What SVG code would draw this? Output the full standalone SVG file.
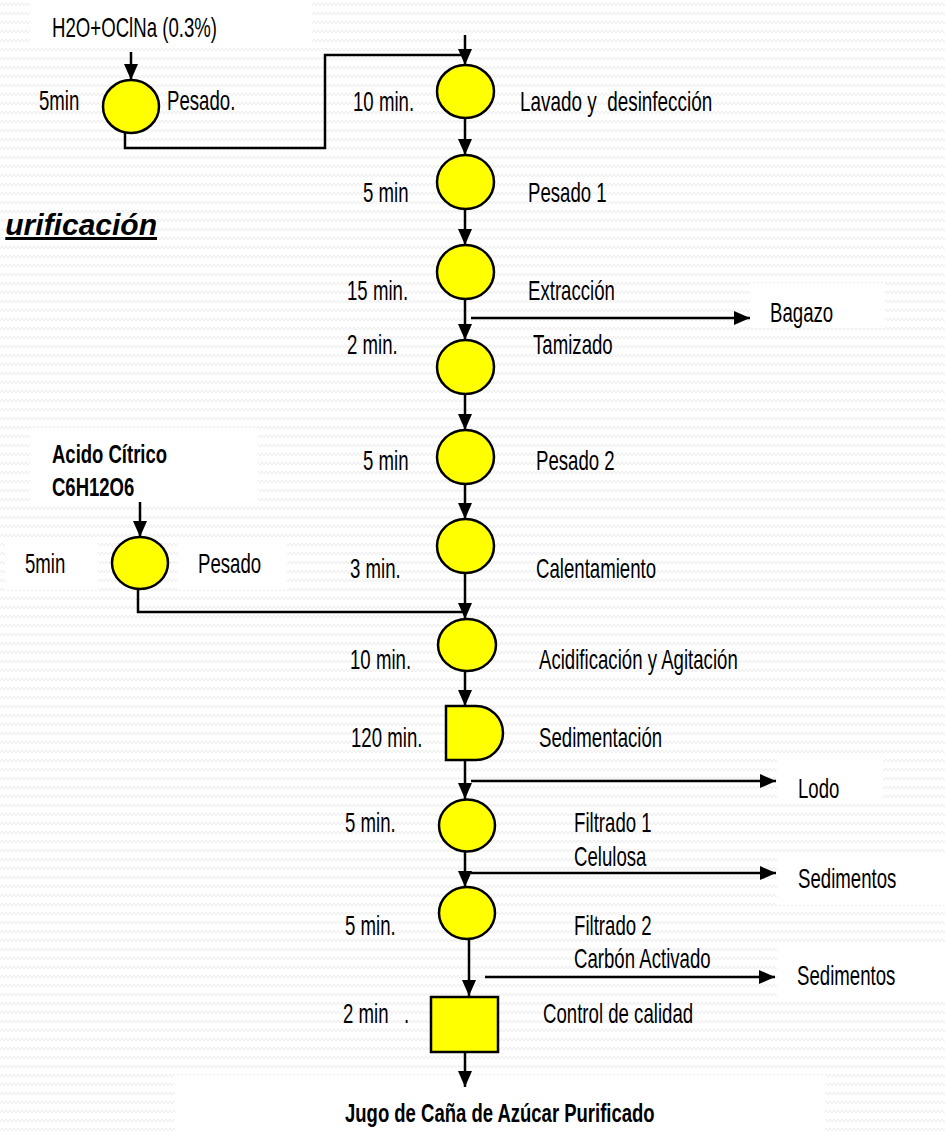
<svg xmlns="http://www.w3.org/2000/svg" width="945" height="1131" viewBox="0 0 945 1131">
<defs>
<pattern id="bg" width="8" height="9" patternUnits="userSpaceOnUse">
<polyline points="0,6 2,3 4,6 6,3 8,6" fill="none" stroke="#ececec" stroke-width="1"/>
</pattern>
<marker id="ah" markerUnits="userSpaceOnUse" markerWidth="16" markerHeight="14" refX="16" refY="7" orient="auto">
<path d="M0,0 L16,7 L0,14 z" fill="#000"/>
</marker>
<style>
.t{font-family:"Liberation Sans",Arial,sans-serif;font-size:27px;fill:#000;white-space:pre}
.b{font-family:"Liberation Sans",Arial,sans-serif;font-size:25px;font-weight:bold;fill:#000;white-space:pre}
.c{fill:#ffff00;stroke:#000;stroke-width:2.5}
.w{fill:#fff}
.ln{fill:none;stroke:#000;stroke-width:2.5}
.ar{fill:none;stroke:#000;stroke-width:2.5;marker-end:url(#ah)}
</style>
</defs>
<rect width="945" height="1131" fill="#fff"/>
<rect width="945" height="1131" fill="url(#bg)"/>
<g id="boxes">
<rect class="w" x="30" y="0" width="282" height="47"/>
<rect class="w" x="750" y="283" width="135" height="45"/>
<rect class="w" x="777" y="757" width="106" height="41"/>
<rect class="w" x="777" y="855" width="168" height="50"/>
<rect class="w" x="777" y="945" width="168" height="52"/>
<rect class="w" x="30" y="428" width="228" height="74"/>
<rect class="w" x="5" y="537" width="93" height="53"/>
<rect class="w" x="178" y="537" width="109" height="53"/>
<rect class="w" x="175" y="1075" width="650" height="56"/>
</g>
<g id="title">
<text x="157" y="235" text-anchor="end" style="font-family:'Liberation Sans',Arial,sans-serif;font-size:30px;font-weight:bold;font-style:italic;text-decoration:underline">urificación</text>
</g>
<g id="connectors">
<path class="ar" d="M131,52 V80"/>
<path class="ln" d="M125,131 V148 H325 V55 H465"/>
<path class="ar" d="M465,35 V65"/>
<path class="ar" d="M465,118 V155"/>
<path class="ar" d="M465,209 V245"/>
<path class="ar" d="M465,299 V340"/>
<path class="ar" d="M471,318 H750"/>
<path class="ar" d="M465,394 V430"/>
<path class="ar" d="M465,484 V519"/>
<path class="ar" d="M465,572 V619"/>
<path class="ar" d="M140,502 V537"/>
<path class="ln" d="M138,589 V612 H465"/>
<path class="ar" d="M465,671 V706"/>
<path class="ar" d="M465,760 V799"/>
<path class="ar" d="M471,781 H776"/>
<path class="ar" d="M465,852 V887"/>
<path class="ar" d="M471,873 H776"/>
<path class="ar" d="M469,939 V996"/>
<path class="ar" d="M485,977 H775"/>
<path class="ar" d="M465,1052 V1087"/>
</g>
<g id="n-h2o"><text class="t" transform="translate(52,37) scale(0.69,1)">H2O+OClNa (0.3%)</text></g>
<g id="n-pesado-a">
<ellipse class="c" cx="131" cy="106.5" rx="28" ry="26.5"/>
<text class="t" transform="translate(39,110) scale(0.69,1)">5min</text>
<text class="t" transform="translate(167,110) scale(0.69,1)">Pesado.</text>
</g>
<g id="n-lavado">
<ellipse class="c" cx="465.5" cy="91.5" rx="28.5" ry="26.5"/>
<text class="t" transform="translate(353,111) scale(0.69,1)">10 min.</text>
<text class="t" transform="translate(520,111) scale(0.7,1)">Lavado y  desinfección</text>
</g>
<g id="n-pesado1">
<ellipse class="c" cx="465.5" cy="182" rx="28.5" ry="27"/>
<text class="t" transform="translate(363,202) scale(0.69,1)">5 min</text>
<text class="t" transform="translate(528,202) scale(0.69,1)">Pesado 1</text>
</g>
<g id="n-extraccion">
<ellipse class="c" cx="465.5" cy="272" rx="28.5" ry="27"/>
<text class="t" transform="translate(347,300) scale(0.69,1)">15 min.</text>
<text class="t" transform="translate(528,300) scale(0.69,1)">Extracción</text>
</g>
<g id="n-bagazo"><text class="t" transform="translate(770,322) scale(0.69,1)">Bagazo</text></g>
<g id="n-tamizado">
<ellipse class="c" cx="465.5" cy="367" rx="28.5" ry="27"/>
<text class="t" transform="translate(347,354) scale(0.69,1)">2 min.</text>
<text class="t" transform="translate(533,354) scale(0.69,1)">Tamizado</text>
</g>
<g id="n-pesado2">
<ellipse class="c" cx="465.5" cy="457" rx="28.5" ry="27"/>
<text class="t" transform="translate(363,470) scale(0.69,1)">5 min</text>
<text class="t" transform="translate(536,470) scale(0.69,1)">Pesado 2</text>
</g>
<g id="n-calentamiento">
<ellipse class="c" cx="465.5" cy="546" rx="28.5" ry="27"/>
<text class="t" transform="translate(350,578) scale(0.69,1)">3 min.</text>
<text class="t" transform="translate(536,578) scale(0.69,1)">Calentamiento</text>
</g>
<g id="n-acido">
<text class="b" transform="translate(52,463) scale(0.74,1)">Acido Cítrico</text>
<text class="b" transform="translate(52,496) scale(0.74,1)">C6H12O6</text>
</g>
<g id="n-pesado-b">
<ellipse class="c" cx="140" cy="563" rx="28" ry="26"/>
<text class="t" transform="translate(25,573) scale(0.69,1)">5min</text>
<text class="t" transform="translate(198,573) scale(0.69,1)">Pesado</text>
</g>
<g id="n-acidificacion">
<ellipse class="c" cx="467" cy="645" rx="29" ry="26"/>
<text class="t" transform="translate(350,669) scale(0.69,1)">10 min.</text>
<text class="t" transform="translate(539,669) scale(0.69,1)">Acidificación y Agitación</text>
</g>
<g id="n-sedimentacion">
<path class="c" d="M446,706 H476 A27,27 0 0 1 476,760 H446 Z"/>
<text class="t" transform="translate(351,747) scale(0.69,1)">120 min.</text>
<text class="t" transform="translate(539,747) scale(0.69,1)">Sedimentación</text>
</g>
<g id="n-lodo"><text class="t" transform="translate(798,798) scale(0.69,1)">Lodo</text></g>
<g id="n-filtrado1">
<ellipse class="c" cx="467" cy="825.5" rx="28" ry="26"/>
<text class="t" transform="translate(345,832) scale(0.69,1)">5 min.</text>
<text class="t" transform="translate(574,832) scale(0.69,1)">Filtrado 1</text>
<text class="t" transform="translate(574,866) scale(0.69,1)">Celulosa</text>
</g>
<g id="n-sed1"><text class="t" transform="translate(798,888) scale(0.69,1)">Sedimentos</text></g>
<g id="n-filtrado2">
<ellipse class="c" cx="467" cy="913" rx="28" ry="26"/>
<text class="t" transform="translate(345,935) scale(0.69,1)">5 min.</text>
<text class="t" transform="translate(574,935) scale(0.69,1)">Filtrado 2</text>
<text class="t" transform="translate(574,968) scale(0.69,1)">Carbón Activado</text>
</g>
<g id="n-sed2"><text class="t" transform="translate(797,985) scale(0.69,1)">Sedimentos</text></g>
<g id="n-control">
<rect class="c" x="431" y="997" width="67" height="55"/>
<text class="t" transform="translate(343,1023) scale(0.69,1)">2 min   .</text>
<text class="t" transform="translate(543,1023) scale(0.69,1)">Control de calidad</text>
</g>
<g id="n-jugo"><text class="b" transform="translate(345,1122) scale(0.74,1)">Jugo de Caña de Azúcar Purificado</text></g>
</svg>
